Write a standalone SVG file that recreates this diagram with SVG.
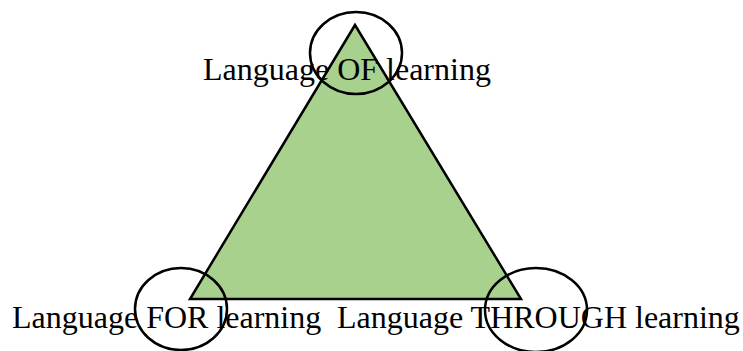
<svg xmlns="http://www.w3.org/2000/svg" width="743" height="351" viewBox="0 0 743 351">
<style>
.lbl{font-family:"Liberation Serif","Times New Roman",serif;font-size:32px;fill:#000}
.ring{fill:none;stroke:#000;stroke-width:2.5}
</style>
<rect width="743" height="351" fill="#fff"/>
<g id="triangle">
<polygon points="355,25 190,299 521,299" fill="#a9d18e" stroke="#000" stroke-width="2.5" stroke-linejoin="miter"/>
</g>
<g id="node-of">
<text class="lbl" x="203" y="80">Language OF learning</text>
<ellipse class="ring" cx="356" cy="53" rx="46" ry="41"/>
</g>
<g id="node-for">
<text class="lbl" x="12" y="328">Language FOR learning</text>
<ellipse class="ring" cx="181" cy="309" rx="46" ry="41"/>
</g>
<g id="node-through">
<text class="lbl" x="337" y="328">Language THROUGH learning</text>
<ellipse class="ring" cx="536" cy="310" rx="51" ry="42"/>
</g>
<g id="connectors"></g>
</svg>
